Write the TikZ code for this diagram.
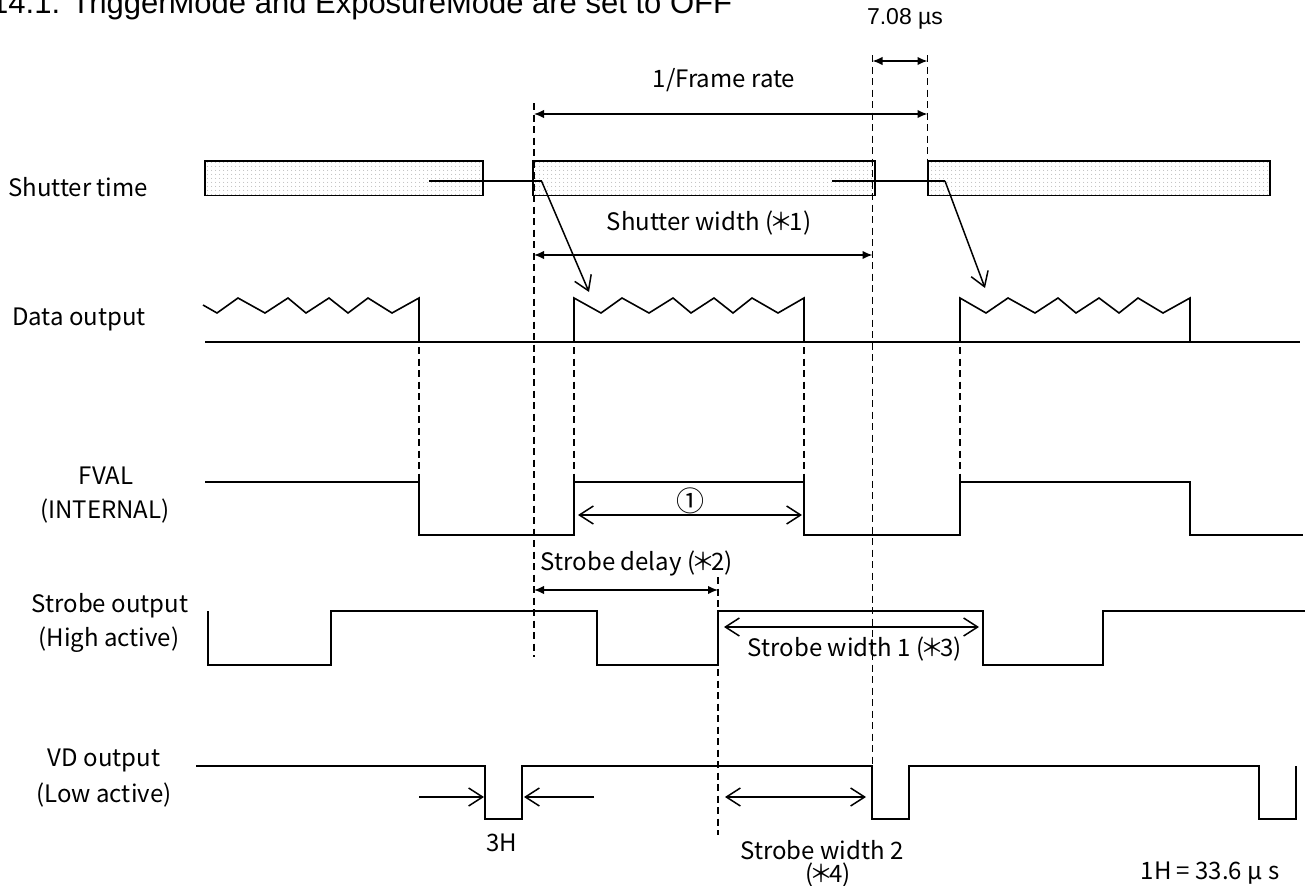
\documentclass[tikz,border=0pt]{standalone}
\usepackage{fontspec}
\setmainfont{Liberation Sans}
\newfontfamily\jp{Noto Sans CJK JP}
\usetikzlibrary{arrows.meta,patterns.meta}
\newcommand{\stx}{\mbox{\kern-0.16em＊\kern-0.16em}}
\begin{document}
\begin{tikzpicture}[x=1pt,y=-1pt,
  sig/.style={line width=1.9pt, line join=miter},
  zig/.style={line width=1.6pt, line join=miter},
  guide/.style={line width=1.7pt, dash pattern=on 7pt off 4.5pt},
  dim/.style={line width=1.6pt, {Latex[length=10pt,width=8.5pt]}-{Latex[length=10pt,width=8.5pt]}},
  opn/.style={line width=1.5pt, {Straight Barb[length=14pt,width=18pt]}-{Straight Barb[length=14pt,width=18pt]}},
  opnr/.style={line width=1.5pt, -{Straight Barb[length=14pt,width=18pt]}},
  lbl/.style={font=\jp\fontsize{24}{28}\selectfont, inner sep=0pt},
  bar/.style={line width=1.9pt, pattern={Dots[distance=4pt,radius=0.55pt]}, pattern color=gray!80}
]
\useasboundingbox (0,0) rectangle (1307,886);

% title (cut at top)
\node[anchor=base west, inner sep=0pt, font=\fontsize{31}{36}\selectfont] (title) at (-9,13) {14.1. TriggerMode and ExposureMode are set to OFF};

% signal labels
\node[lbl, anchor=west] (lshut) at (8,187) {Shutter time};
\node[lbl, anchor=west] (ldata) at (12,319) {Data output};
\node[lbl] (lfval) at (106,476) {FVAL};
\node[lbl] (lfval2) at (105,511) {(INTERNAL)};
\node[lbl] (lstr) at (110,606) {Strobe output};
\node[lbl] (lstr2) at (109,640) {(High active)};
\node[lbl] (lvd) at (104,760) {VD output};
\node[lbl] (lvd2) at (104,795) {(Low active)};

% shutter bars
\draw[bar] (205,161) rectangle (483,195.5);
\draw[bar] (533,161) rectangle (875,195.5);
\draw[bar] (928,161) rectangle (1270,195.5);

% shutter -> data arrows
\coordinate (s1a) at (429,181); \coordinate (s1b) at (541.5,181); \coordinate (s1t) at (589,292);
\coordinate (s2a) at (832,181); \coordinate (s2b) at (945,181); \coordinate (s2t) at (985,288);
\draw[line width=1.5pt] (s1a) -- (s1b);
\draw[opnr] (s1b) -- (s1t);
\draw[line width=1.5pt] (s2a) -- (s2b);
\draw[opnr] (s2b) -- (s2t);

% data output
\draw[zig] (203,305) -- (217,313) -- (238,298) -- (265,313) -- (288,298) -- (306,313) -- (329,298) -- (348,313) -- (368,298) -- (392,313) -- (419,298) -- (419,342);
\draw[zig] (574,342) -- (574,298) -- (601,313) -- (622,298) -- (649,313) -- (673,298) -- (691,313) -- (714,298) -- (733,313) -- (752,298) -- (778,313) -- (804,298) -- (804,342);
\draw[zig] (960,342) -- (960,298) -- (986,313) -- (1008,298) -- (1035,313) -- (1058,298) -- (1076,313) -- (1099,298) -- (1119,313) -- (1138,298) -- (1163,313) -- (1190,298) -- (1190,342);
\draw[sig] (205,342) -- (1300,342);

% FVAL
\draw[sig] (205,482) -- (419,482) -- (419,535) -- (574,535) -- (574,482) -- (804,482) -- (804,535) -- (960,535) -- (960,482) -- (1190,482) -- (1190,535) -- (1303,535);

% Strobe
\draw[sig] (208,611) -- (208,665) -- (331,665) -- (331,611) -- (597,611) -- (597,665) -- (718,665) -- (718,611) -- (983,611) -- (983,665) -- (1103,665) -- (1103,611) -- (1305,611);

% VD
\draw[sig] (196,766) -- (485,766) -- (485,819) -- (522,819) -- (522,766) -- (872,766) -- (872,819) -- (909,819) -- (909,766) -- (1259,766) -- (1259,819) -- (1296,819) -- (1296,766);

% dashed guides
\draw[guide] (419,347) -- (419,482);
\draw[guide] (534,103) -- (534,657);
\draw[guide] (574,347) -- (574,482);
\draw[guide] (804,347) -- (804,482);
\draw[guide] (960,347) -- (960,482);
\draw[guide] (872.5,55) -- (872.5,766);
\draw[guide] (927.5,55) -- (927.5,161);
\draw[guide] (718,577) -- (718,835);

% dimension arrows
\draw[dim] (872.5,61) -- (927.5,61);
\draw[dim] (534,114) -- (927.5,114);
\draw[dim] (534,255) -- (872.5,255);
\draw[dim] (534,590) -- (718,590);
\draw[opn] (578,515) -- (802,515);
\draw[opn] (724,627) -- (979,627);
\draw[opn] (725,797) -- (866,797);
\draw[opnr] (419,797) -- (484,797);
\draw[opnr] (594,797) -- (524,797);

% annotation texts
\node[inner sep=0pt, font=\fontsize{23}{27}\selectfont] (t708) at (905,19) {7.08 µs};
\node[lbl] (tframe) at (724,80) {1/Frame rate};
\node[lbl] (tsw) at (709,223) {Shutter width (\stx1)};
\node[lbl, font=\jp\fontsize{28}{30}\selectfont] (tone) at (690,501) {①};
\node[lbl] (tsd) at (637,563) {Strobe delay (\stx2)};
\node[lbl] (tsw1) at (855,649) {Strobe width 1 (\stx3)};
\node[lbl] (t3h) at (502,843) {3H};
\node[lbl] (tsw2) at (822,850) {Strobe width 2};
\node[lbl] (tsw2b) at (828,875) {(\stx4)};
\node[lbl] (t1h) at (1210,873) {1H = 33.6 μ s};
\end{tikzpicture}
\end{document}
